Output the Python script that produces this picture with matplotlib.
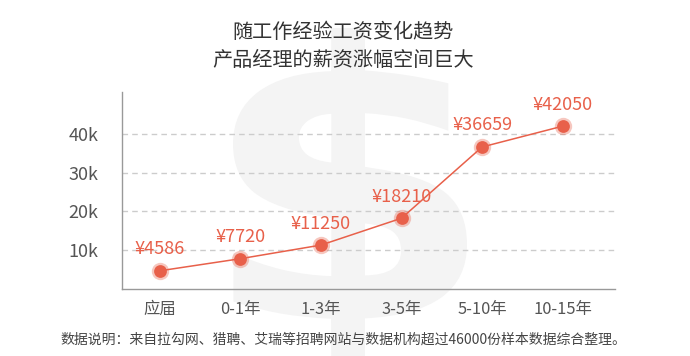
import matplotlib
matplotlib.use("Agg")
import matplotlib.pyplot as plt
from matplotlib.ticker import FixedLocator
from matplotlib.textpath import TextPath
from matplotlib.patches import PathPatch
from matplotlib.font_manager import FontProperties
from matplotlib.transforms import Affine2D

plt.rcParams['font.family'] = ['Noto Sans CJK SC', 'DejaVu Sans']

categories = ["应届", "0-1年", "1-3年", "3-5年", "5-10年", "10-15年"]
salaries = [4586, 7720, 11250, 18210, 36659, 42050]
ytick_values = [10000, 20000, 30000, 40000]
ytick_labels = ["10k", "20k", "30k", "40k"]
title_lines = ["随工作经验工资变化趋势", "产品经理的薪资涨幅空间巨大"]
footnote = "数据说明：来自拉勾网、猎聘、艾瑞等招聘网站与数据机构超过46000份样本数据综合整理。"

RED = "#e8604a"
W, H = 690, 356

fig = plt.figure(figsize=(6.9, 3.56), dpi=100)
fig.patch.set_facecolor("white")

# big watermark dollar sign, stretched into its box (figure pixel coords)
tp = TextPath((0, 0), "$", size=1,
              prop=FontProperties(family="DejaVu Sans", weight="bold"))
ext = tp.get_extents()
x0, x1 = 233, 467          # left / right in px
ytop, ybot = 28, 375       # top / bottom in px (from top)
sx = (x1 - x0) / ext.width
sy = (ybot - ytop) / ext.height
tr = (Affine2D().translate(-ext.x0, -ext.y0).scale(sx, sy)
      .translate(x0, H - ybot)) + fig.dpi_scale_trans.inverted() + fig.dpi_scale_trans.inverted().inverted()
patch = PathPatch(tp, facecolor="#f4f4f4", edgecolor="none", zorder=-5,
                  transform=Affine2D().translate(-ext.x0, -ext.y0).scale(sx, sy)
                  .translate(x0, H - ybot) + Affine2D().scale(1 / W, 1 / H)
                  + fig.transFigure)
fig.patches.append(patch)

ax = fig.add_axes([122 / W, 1 - 288.5 / H, (615 - 122) / W, (288.5 - 92) / H])
ax.patch.set_alpha(0)

x = list(range(len(categories)))
ax.plot(x, salaries, color=RED, lw=1.1, zorder=3)
ax.plot(x, salaries, "o", color=RED, alpha=0.35, markersize=12.5,
        markeredgewidth=0, zorder=4)
ax.plot(x, salaries, "o", color=RED, markersize=9.2, markeredgewidth=0, zorder=5)

for xi, v in zip(x, salaries):
    ax.annotate(f"¥{v}", (xi, v), xytext=(0, 9), textcoords="offset points",
                ha="center", va="bottom", color=RED, fontsize=13, zorder=6)

ax.set_xlim(-0.47, 5.65)
ax.set_ylim(0, 50900)
ax.set_xticks(x)
ax.set_xticklabels(categories)
ax.yaxis.set_major_locator(FixedLocator(ytick_values))
ax.set_yticklabels(ytick_labels)
ax.tick_params(axis="both", length=0, colors="#555555", labelsize=11.8)
ax.tick_params(axis="y", pad=17, labelsize=13)
ax.tick_params(axis="x", pad=9)

ax.grid(axis="y", color="#cccccc", linestyle=(0, (4, 3)), lw=1, zorder=1)
for s in ["top", "right"]:
    ax.spines[s].set_visible(False)
for s in ["left", "bottom"]:
    ax.spines[s].set_color("#999999")
    ax.spines[s].set_linewidth(1)

fig.text(343 / W, 1 - 32 / H, title_lines[0], ha="center", va="center",
         fontsize=14.5, color="#333333")
fig.text(343 / W, 1 - 60 / H, title_lines[1], ha="center", va="center",
         fontsize=14.5, color="#333333")
fig.text(343 / W, 1 - 340 / H, footnote, ha="center", va="center",
         fontsize=10, color="#444444")

fig.savefig("out.png", dpi=100, facecolor="white")
